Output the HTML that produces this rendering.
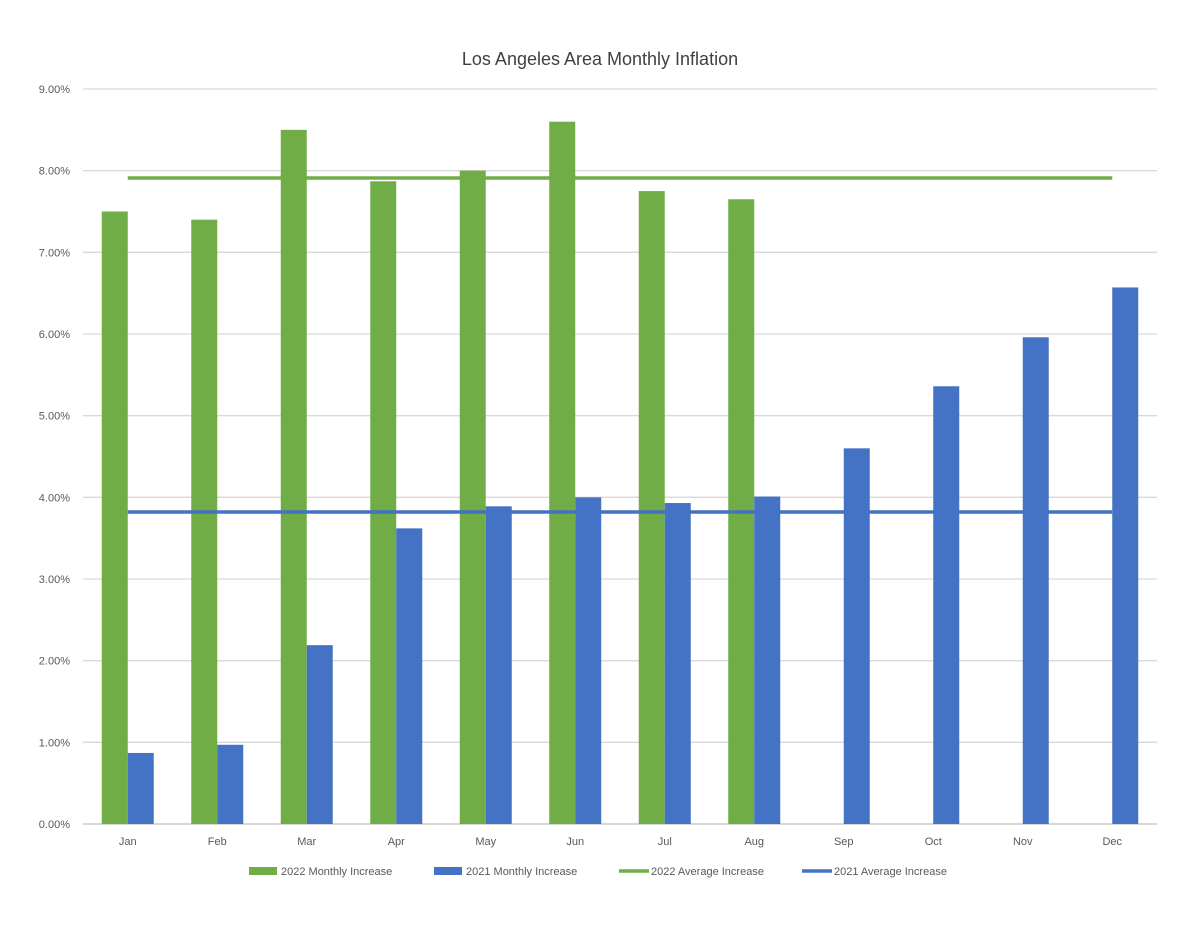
<!DOCTYPE html>
<html><head><meta charset="utf-8"><style>
body{margin:0;background:#fff;}
svg{display:block;font-family:"Liberation Sans",sans-serif;}
</style></head><body>
<svg id="chart" width="1200" height="927">
<text x="600" y="65" text-anchor="middle" font-size="18" fill="#404040">Los Angeles Area Monthly Inflation</text>
<g id="grid"></g><g id="bars"></g><g id="lines"></g><g id="xlabels"></g>
<g id="legend"></g>
</svg>
<script>
const months=["Jan","Feb","Mar","Apr","May","Jun","Jul","Aug","Sep","Oct","Nov","Dec"];
const s2022=[7.5,7.4,8.5,7.87,8.0,8.6,7.75,7.65,null,null,null,null];
const s2021=[0.87,0.97,2.19,3.62,3.89,4.0,3.93,4.01,4.6,5.36,5.96,6.57];
const avg2022=7.91;
const avg2021=3.82;
const yTicks=[0,1,2,3,4,5,6,7,8,9];
const legendLabels=["2022 Monthly Increase","2021 Monthly Increase","2022 Average Increase","2021 Average Increase"];
const NS="http://www.w3.org/2000/svg";
const L=83,R=1157,T=89,B=824,ymax=9;
const y=v=>B-(v/ymax)*(B-T);
const bw=(R-L)/months.length;
const xc=i=>L+bw*(i+0.5);
function mk(t,a,p){const e=document.createElementNS(NS,t);for(const k in a)e.setAttribute(k,a[k]);p.appendChild(e);return e;}
const g=document.getElementById('grid');
yTicks.forEach(t=>{
 const ln=mk('line',{x1:L,x2:R,y1:y(t),y2:y(t),stroke:t===0?'#bfbfbf':'#d9d9d9','stroke-width':1.3},g);
 
 
 const tx=mk('text',{x:70,y:y(t)+4,'text-anchor':'end','font-size':11,fill:'#595959'},g);
 tx.textContent=t.toFixed(2)+'%';
 
 
});
const bg=document.getElementById('bars');
const w=26;
months.forEach((m,i)=>{
 if(s2022[i]!=null){const r=mk('rect',{x:xc(i)-w,y:y(s2022[i]),width:w,height:B-y(s2022[i]),fill:'#70ad47'},bg);
  
  }
 const r2=mk('rect',{x:xc(i),y:y(s2021[i]),width:w,height:B-y(s2021[i]),fill:'#4472c4'},bg);
 
 
 const tx=mk('text',{x:xc(i),y:845,'text-anchor':'middle','font-size':11,fill:'#595959'},document.getElementById('xlabels'));
 tx.textContent=m;
 
 
});
const lg=document.getElementById('lines');
const a1=mk('line',{x1:xc(0),x2:xc(11),y1:y(avg2022),y2:y(avg2022),stroke:'#70ad47','stroke-width':3.5},lg);


const a2=mk('line',{x1:xc(0),x2:xc(11),y1:y(avg2021),y2:y(avg2021),stroke:'#4472c4','stroke-width':3.5},lg);


const leg=document.getElementById('legend');
const lx=[249,434,619,802];
legendLabels.forEach((lab,i)=>{
 const col=i%2===0?'#70ad47':'#4472c4';
 const sw=i<2?mk('rect',{x:lx[i],y:867,width:28,height:8,fill:col},leg):mk('line',{x1:lx[i],x2:lx[i]+30,y1:871,y2:871,stroke:col,'stroke-width':3.5},leg);
 
 
 const tx=mk('text',{x:lx[i]+(i<2?32:32),y:875,'font-size':11,fill:'#595959'},leg);
 tx.textContent=lab;
 
 
});
</script>
</body></html>
